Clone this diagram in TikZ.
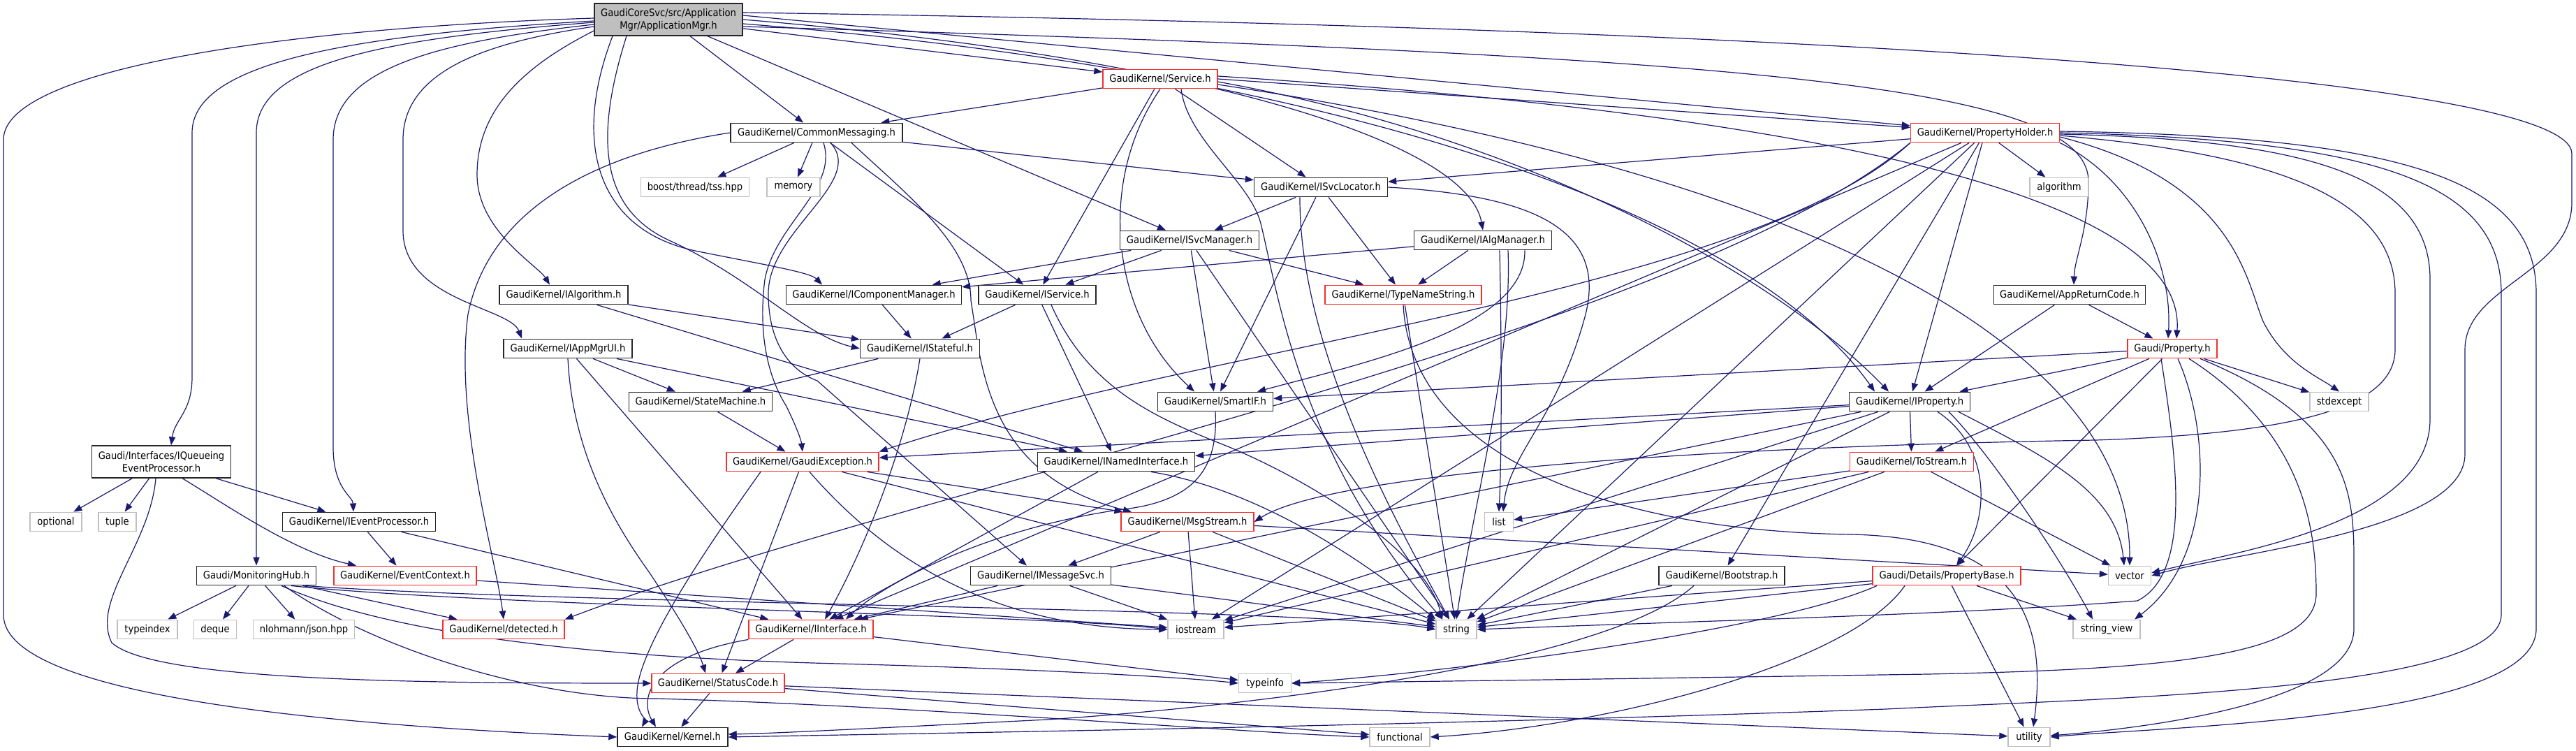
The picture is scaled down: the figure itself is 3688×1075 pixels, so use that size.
\documentclass[tikz,border=0pt]{standalone}
\usepackage{fontspec}
\setmainfont{DejaVu Sans}[FakeStretch=0.9]
\usetikzlibrary{arrows.meta}
\pgfdeclarelayer{bg}
\pgfdeclarelayer{paper}
\pgfsetlayers{paper,bg,main}
\definecolor{edgec}{RGB}{25,25,112}
\definecolor{redb}{RGB}{245,45,45}
\definecolor{grayb}{RGB}{191,191,191}
\newcommand\gfs{\fontsize{7.3}{9}\selectfont}
\begin{document}
\begin{tikzpicture}[x=0.5pt,y=-0.5pt,
  nb/.style={draw, line width=0.7pt, fill=white, minimum height=13.75pt, inner xsep=1pt, inner ysep=0pt, font=\gfs, text=black},
  kb/.style={nb, draw=black!85},
  kr/.style={nb, draw=redb},
  kg/.style={nb, draw=grayb},
  kroot/.style={nb, draw=black!85, fill=grayb, minimum height=23pt, align=center},
  dep/.style={draw=edgec, line width=0.6pt, -{Triangle[length=6pt,width=4.6pt]}}]
\begin{pgfonlayer}{paper}
\fill[white] (0,0) rectangle (3688,1075);
\end{pgfonlayer}
\useasboundingbox (0,0) rectangle (3688,1075);

% ---------- nodes ----------
\node[kroot, minimum width=106pt] (root) at (957,28) {GaudiCoreSvc/src/Application\\Mgr/ApplicationMgr.h};
\node[kr, minimum width=82pt] (svc) at (1661,113) {GaudiKernel/Service.h};
\node[kb, minimum width=123pt] (cm) at (1169,190) {GaudiKernel/CommonMessaging.h};
\node[kr, minimum width=106.5pt] (ph) at (2842,190) {GaudiKernel/PropertyHolder.h};
\node[kg, minimum width=77.5pt] (boost) at (995,268) {boost/thread/tss.hpp};
\node[kg, minimum width=38pt] (memory) at (1136,268) {memory};
\node[kb, minimum width=95.5pt] (isl) at (1891,268) {GaudiKernel/ISvcLocator.h};
\node[kg, minimum width=42pt] (algo) at (2948,268) {algorithm};
\node[kb, minimum width=99.5pt] (ism) at (1703,344) {GaudiKernel/ISvcManager.h};
\node[kb, minimum width=98.5pt] (iam) at (2123,344) {GaudiKernel/IAlgManager.h};
\node[kb, minimum width=92pt] (ialg) at (807,422) {GaudiKernel/IAlgorithm.h};
\node[kb, minimum width=125.5pt] (icm) at (1251,422) {GaudiKernel/IComponentManager.h};
\node[kb, minimum width=84pt] (isvc) at (1485,422) {GaudiKernel/IService.h};
\node[kr, minimum width=112pt] (tns) at (2009,422) {GaudiKernel/TypeNameString.h};
\node[kb, minimum width=108.5pt] (arc) at (2963,422) {GaudiKernel/AppReturnCode.h};
\node[kb, minimum width=92pt] (iui) at (813,499) {GaudiKernel/IAppMgrUI.h};
\node[kb, minimum width=85.5pt] (ist) at (1317,499) {GaudiKernel/IStateful.h};
\node[kr, minimum width=64pt] (prop) at (3110,499) {Gaudi/Property.h};
\node[kb, minimum width=102.5pt] (sm) at (1003,575) {GaudiKernel/StateMachine.h};
\node[kb, minimum width=82.5pt] (sif) at (1740,575) {GaudiKernel/SmartIF.h};
\node[kb, minimum width=86.5pt] (ip) at (2734,575) {GaudiKernel/IProperty.h};
\node[kg, minimum width=42pt] (stdx) at (3349,575) {stdexcept};
\node[kb, minimum width=99.5pt, minimum height=23pt, align=center] (iq) at (231,661) {Gaudi/Interfaces/IQueueing\\EventProcessor.h};
\node[kr, minimum width=109pt] (gex) at (1149,661) {GaudiKernel/GaudiException.h};
\node[kb, minimum width=112.5pt] (ini) at (1598,661) {GaudiKernel/INamedInterface.h};
\node[kr, minimum width=88.5pt] (tos) at (2737,661) {GaudiKernel/ToStream.h};
\node[kg, minimum width=37pt] (opt) at (80,747) {optional};
\node[kg, minimum width=27pt] (tup) at (168,747) {tuple};
\node[kb, minimum width=109.5pt] (iep) at (514,747) {GaudiKernel/IEventProcessor.h};
\node[kr, minimum width=95pt] (msg) at (1700,747) {GaudiKernel/MsgStream.h};
\node[kg, minimum width=20.5pt] (lst) at (2146,747) {list};
\node[kb, minimum width=85.5pt] (mh) at (367,824) {Gaudi/MonitoringHub.h};
\node[kr, minimum width=102pt] (ec) at (580,824) {GaudiKernel/EventContext.h};
\node[kb, minimum width=100.5pt] (ims) at (1490,824) {GaudiKernel/IMessageSvc.h};
\node[kb, minimum width=90pt] (boot) at (2465,824) {GaudiKernel/Bootstrap.h};
\node[kr, minimum width=106pt] (pb) at (2787,824) {Gaudi/Details/PropertyBase.h};
\node[kg, minimum width=30.5pt] (vec) at (3049,824) {vector};
\node[kg, minimum width=43pt] (tidx) at (211,901) {typeindex};
\node[kg, minimum width=30.5pt] (deq) at (308,901) {deque};
\node[kg, minimum width=72.5pt] (json) at (435,901) {nlohmann/json.hpp};
\node[kr, minimum width=87pt] (det) at (721,901) {GaudiKernel/detected.h};
\node[kr, minimum width=89pt] (ii) at (1161,901) {GaudiKernel/IInterface.h};
\node[kg, minimum width=40pt] (ios) at (1712,901) {iostream};
\node[kg, minimum width=29pt] (str) at (2085,901) {string};
\node[kg, minimum width=48pt] (sv) at (3016,901) {string\_view};
\node[kr, minimum width=95pt] (sc) at (1028,978) {GaudiKernel/StatusCode.h};
\node[kg, minimum width=37.5pt] (tinf) at (1811,978) {typeinfo};
\node[kb, minimum width=79pt] (ker) at (963,1055) {GaudiKernel/Kernel.h};
\node[kg, minimum width=43pt] (func) at (2004,1055) {functional};
\node[kg, minimum width=30pt] (util) at (2905,1055) {utility};

% ---------- edges ----------
\begin{pgfonlayer}{bg}
% root
\draw[dep] (root) -- (svc);
\draw[dep] (root) -- (cm);
\draw[dep] (root) -- (ism);
\draw[dep] (root.east) .. controls (1700,80) and (2100,200) .. (iam.north);
\draw[dep] ([yshift=3pt]root.east) -- (ph);
\draw[dep] ([yshift=-3pt]root.east) .. controls (1900,100) and (2500,300) .. ([xshift=-25pt]ip.north);
\draw[dep] ([yshift=-8pt]root.west) .. controls (760,90) and (683,150) .. (683,250) .. controls (683,330) and (770,380) .. ([xshift=-10pt]ialg.north);
\draw[dep] ([yshift=-5pt]root.west) .. controls (700,60) and (577,100) .. (577,200) -- (577,330) .. controls (577,430) and (730,440) .. ([xshift=-33pt]iui.north);
\draw[dep] ([yshift=-1pt]root.west) .. controls (500,50) and (275,90) .. (275,190) -- (275,540) .. controls (275,590) and (250,600) .. ([xshift=7pt]iq.north);
\draw[dep] ([yshift=-2pt]root.west) .. controls (550,55) and (367,90) .. (367,190) -- (mh.north);
\draw[dep] ([yshift=-3.5pt]root.west) .. controls (620,60) and (477,100) .. (477,200) -- (477,640) .. controls (477,700) and (505,710) .. ([xshift=-4pt]iep.north);
\draw[dep] ([yshift=1pt]root.west) .. controls (400,40) and (5,100) .. (5,200) -- (5,880) .. controls (5,1000) and (500,1040) .. (ker.west);
\draw[dep] ([yshift=-5pt]root.east) .. controls (2500,80) and (2990,120) .. (2990,260) .. controls (2990,330) and (2970,370) .. ([xshift=3pt]arc.north);
\draw[dep] ([yshift=5pt]root.east) .. controls (2600,40) and (3682,110) .. (3682,220) -- (3682,290) .. controls (3682,390) and (3529,410) .. (3529,500) -- (3529,650) .. controls (3529,760) and (3200,790) .. (vec.east);
\draw[dep] ([xshift=-30pt]root.south) .. controls (850,200) and (860,300) .. (960,345) .. controls (1080,400) and (1150,480) .. (ist.west);
\draw[dep] ([xshift=-40pt]root.south) .. controls (820,200) and (850,330) .. (1000,360) .. controls (1100,380) and (1160,390) .. ([xshift=-37pt]icm.north);
% Service
\draw[dep] (svc) -- (cm);
\draw[dep] (svc) -- (isl);
\draw[dep] (svc) -- (isvc);
\draw[dep] (svc.south) .. controls (1570,260) and (1590,450) .. ([xshift=-15pt]sif.north);
\draw[dep] (svc.east) -- (ph);
\draw[dep] ([yshift=-2pt]svc.east) .. controls (2200,200) and (2550,400) .. ([xshift=-15pt]ip.north);
\draw[dep] ([yshift=2pt]svc.east) .. controls (2700,170) and (3130,300) .. ([xshift=3pt]prop.north);
\draw[dep] ([yshift=-4pt]svc.east) .. controls (2600,250) and (3050,500) .. (vec.north);
\draw[dep] ([xshift=15pt]svc.south) .. controls (1700,200) and (1790,260) .. (1805,320) .. controls (1830,420) and (1860,650) .. ([xshift=-10pt]str.north);
% CommonMessaging
\draw[dep] (cm) -- (boost);
\draw[dep] (cm) -- (memory);
\draw[dep] (cm) -- (isl);
\draw[dep] (cm) -- (isvc);
\draw[dep] ([xshift=10pt]cm.south) .. controls (1240,260) and (1100,330) .. (1100,420) .. controls (1100,490) and (1130,530) .. (1170,545) -- ([xshift=-10pt]ims.north);
\draw[dep] ([xshift=25pt]cm.south) .. controls (1300,280) and (1390,350) .. (1390,430) .. controls (1405,520) and (1410,680) .. ([xshift=-40pt]msg.north);
\draw[dep] (cm.west) .. controls (850,220) and (700,300) .. (670,450) .. controls (650,600) and (710,800) .. (det.north);
\draw[dep] ([xshift=5pt]cm.south) .. controls (1200,270) and (1110,320) .. (1095,400) .. controls (1085,480) and (1100,540) .. (1125,580) .. controls (1140,610) and (1147,630) .. (gex.north);
% PropertyHolder
\draw[dep] (ph) -- (isl);
\draw[dep] (ph) -- (algo);
\draw[dep] (ph) -- (ip);
\draw[dep] (ph.south east) .. controls (3060,260) and (3110,380) .. ([xshift=-3pt]prop.north);
\draw[dep] ([yshift=-3pt]ph.east) .. controls (3200,260) and (3215,400) .. (3240,460) .. controls (3270,520) and (3320,540) .. (stdx.north);
\draw[dep] ([yshift=-1pt]ph.east) .. controls (3300,200) and (3479,250) .. (3479,400) -- (3479,600) .. controls (3479,750) and (3200,790) .. ([yshift=2pt]vec.east);
\draw[dep] ([yshift=1pt]ph.east) .. controls (3450,195) and (3631,260) .. (3631,420) -- (3631,900) .. controls (3631,1030) and (3100,1040) .. (util.east);
\draw[dep] (ph.east) .. controls (3400,200) and (3581,260) .. (3581,420) -- (3581,880) .. controls (3581,990) and (3000,1000) .. (2700,1015) .. controls (2000,1040) and (1300,1050) .. (ker.east);
\draw[dep] ([yshift=-2pt]ph.east) .. controls (3250,220) and (3429,280) .. (3429,420) -- (3429,500) .. controls (3429,580) and (3300,620) .. (3000,630) .. controls (2400,640) and (1900,680) .. (msg.east);
\draw[dep] (ph) -- (boot);
\draw[dep] (ph) -- (str);
\draw[dep] (ph) -- (ios);
\draw[dep] (ph.south west) .. controls (2500,420) and (1700,500) .. (gex.north east);
\draw[dep] (ph.south west) .. controls (2400,480) and (1300,700) .. (det.north east);
\draw[dep] (ph) -- (ii);
% ISvcLocator
\draw[dep] (isl) -- (ism);
\draw[dep] (isl) -- (tns);
\draw[dep] (isl) -- (sif);
\draw[dep] (isl.east) .. controls (2200,280) and (2300,330) .. (2270,450) .. controls (2230,600) and (2160,650) .. ([xshift=3pt]lst.north);
\draw[dep] ([xshift=-15pt]isl.south) .. controls (1860,500) and (2000,750) .. ([xshift=-5pt]str.north);
% ISvcManager
\draw[dep] (ism) -- (icm);
\draw[dep] (ism) -- (isvc);
\draw[dep] (ism) -- (sif);
\draw[dep] (ism) -- (tns);
\draw[dep] (ism) -- (str);
% IAlgManager
\draw[dep] (iam) -- (icm);
\draw[dep] (iam) -- (tns);
\draw[dep] ([xshift=30pt]iam.south) .. controls (2185,470) and (1950,520) .. ([xshift=30pt]sif.north);
\draw[dep] ([xshift=12pt]iam.south) .. controls (2150,500) and (2150,650) .. (lst.north);
\draw[dep] ([xshift=18pt]iam.south) .. controls (2165,520) and (2110,720) .. (str.north);
% IAlgorithm, IComponentManager, IService
\draw[dep] (ialg) -- (ist);
\draw[dep] (ialg) -- (ini);
\draw[dep] (icm) -- (ist);
\draw[dep] (isvc) -- (ist);
\draw[dep] (isvc) -- (ini);
\draw[dep] ([xshift=10pt]isvc.south) .. controls (1560,560) and (1660,600) .. (1760,640) .. controls (1880,690) and (2040,790) .. ([xshift=-10pt]str.north);
% TypeNameString
\draw[dep] (tns) -- (str);
\draw[dep] (tns.south) .. controls (2020,650) and (2300,760) .. (2650,765) .. controls (2900,770) and (2930,900) .. ([xshift=3pt]util.north);
% AppReturnCode
\draw[dep] (arc) -- (ip);
\draw[dep] (arc) -- (prop);
% IAppMgrUI
\draw[dep] (iui) -- (sm);
\draw[dep] (iui) -- (ini);
\draw[dep] (iui) -- (ii);
\draw[dep] (iui.south) .. controls (820,650) and (880,750) .. (930,820) .. controls (970,880) and (1000,930) .. ([xshift=-9pt]sc.north);
% IStateful
\draw[dep] (ist) -- (sm);
\draw[dep] (ist.south) .. controls (1295,650) and (1230,800) .. ([xshift=10pt]ii.north);
% Property
\draw[dep] (prop) -- (sif);
\draw[dep] (prop) -- (ip);
\draw[dep] (prop) -- (tos);
\draw[dep] (prop) -- (pb);
\draw[dep] (prop) -- (stdx);
\draw[dep] ([xshift=-8pt]prop.south) .. controls (3115,650) and (3140,820) .. (3060,860) .. controls (2800,880) and (2400,890) .. (str.east);
\draw[dep] ([xshift=4pt]prop.south) .. controls (3165,620) and (3170,800) .. ([xshift=20pt]sv.north);
\draw[dep] ([xshift=12pt]prop.south) .. controls (3300,620) and (3316,760) .. (3316,850) .. controls (3316,940) and (3100,958) .. (2760,965) .. controls (2300,972) and (2000,976) .. (tinf.east);
\draw[dep] ([xshift=20pt]prop.south) .. controls (3360,600) and (3370,700) .. (3370,800) -- (3370,900) .. controls (3370,1000) and (3100,1040) .. ([yshift=1pt]util.east);
% StateMachine, SmartIF
\draw[dep] (sm) -- (gex);
\draw[dep] (sif.south) .. controls (1745,680) and (1700,720) .. (1600,730) .. controls (1400,760) and (1260,840) .. ([xshift=25pt]ii.north);
% IProperty
\draw[dep] (ip) -- (gex);
\draw[dep] (ip) -- (ini);
\draw[dep] (ip) -- (tos);
\draw[dep] ([xshift=20pt]ip.south) .. controls (2850,640) and (2850,740) .. ([xshift=7pt]pb.north);
\draw[dep] ([xshift=35pt]ip.south) .. controls (2920,650) and (3030,700) .. ([xshift=-4pt]vec.north);
\draw[dep] ([xshift=28pt]ip.south) .. controls (2850,650) and (2950,800) .. ([xshift=-10pt]sv.north);
\draw[dep] (ip) -- (str);
\draw[dep] (ip) -- (ii);
\draw[dep] (ip) -- (ios);
% IQueueingEventProcessor
\draw[dep] (iq) -- (opt);
\draw[dep] (iq) -- (tup);
\draw[dep] (iq) -- (iep);
\draw[dep] ([xshift=15pt]iq.south) .. controls (320,720) and (420,790) .. ([xshift=-35pt]ec.north);
\draw[dep] ([xshift=-4pt]iq.south) .. controls (215,780) and (130,860) .. (160,920) .. controls (220,975) and (600,978) .. (sc.west);
% GaudiException
\draw[dep] ([xshift=-30pt]gex.south) .. controls (1000,800) and (915,930) .. (912,990) .. controls (910,1020) and (925,1030) .. ([xshift=-22pt]ker.north);
\draw[dep] (gex) -- (sc);
\draw[dep] ([xshift=5pt]gex.south) .. controls (1250,780) and (1400,900) .. (ios.west);
\draw[dep] (gex) -- (str);
\draw[dep] (gex) -- (msg);
% INamedInterface, ToStream
\draw[dep] (ini) -- (ii);
\draw[dep] ([xshift=25pt]ini.south) .. controls (1800,700) and (1950,800) .. (str.north west);
\draw[dep] (tos) -- (lst);
\draw[dep] (tos) -- (vec);
\draw[dep] (tos) -- (ios);
\draw[dep] (tos) -- (str);
% IEventProcessor, MsgStream
\draw[dep] (iep) -- (ec);
\draw[dep] (iep) -- (ii);
\draw[dep] (msg) -- (ims);
\draw[dep] (msg) -- (str);
\draw[dep] (msg) -- (ios);
\draw[dep] (msg) -- (vec);
% MonitoringHub
\draw[dep] (mh) -- (tidx);
\draw[dep] (mh) -- (deq);
\draw[dep] (mh) -- (json);
\draw[dep] (mh) -- (det);
\draw[dep] ([xshift=35pt]mh.south) .. controls (800,865) and (1900,870) .. (str.west);
\draw[dep] ([xshift=18pt]mh.south) .. controls (540,900) and (800,940) .. (1200,950) .. controls (1500,958) and (1700,970) .. (tinf.west);
\draw[dep] ([xshift=20pt]mh.south) .. controls (520,920) and (750,1000) .. (940,1000) .. controls (1300,1010) and (1800,1050) .. (func.west);
\draw[dep] ([xshift=25pt]mh.south) .. controls (700,868) and (1500,880) .. (ios.west);
% EventContext, IMessageSvc, Bootstrap
\draw[dep] (ec) -- (ios);
\draw[dep] (ims) -- (ii);
\draw[dep] (ims) -- (ios);
\draw[dep] (ims) -- (str);
\draw[dep] (boot) -- (str);
\draw[dep] ([xshift=-20pt]boot.south) .. controls (2300,950) and (1800,1010) .. (1500,1030) .. controls (1200,1045) and (1100,1050) .. ([yshift=2pt]ker.east);
% PropertyBase
\draw[dep] (pb) -- (str);
\draw[dep] (pb) -- (sv);
\draw[dep] (pb) -- (util);
\draw[dep] (pb) -- (ios);
\draw[dep] ([xshift=-30pt]pb.south) .. controls (2650,950) and (2300,1040) .. (func.east);
\draw[dep] ([xshift=-50pt]pb.south) .. controls (2550,900) and (2100,960) .. (tinf.east);
% IInterface, StatusCode
\draw[dep] (ii) -- (sc);
\draw[dep] (ii) -- (tinf);
\draw[dep] (ii.south west) .. controls (930,940) and (915,1000) .. ([xshift=-12pt]ker.north);
\draw[dep] (sc) -- (ker);
\draw[dep] (sc) -- (func);
\draw[dep] (sc) -- (util);
\end{pgfonlayer}
\end{tikzpicture}
\end{document}
